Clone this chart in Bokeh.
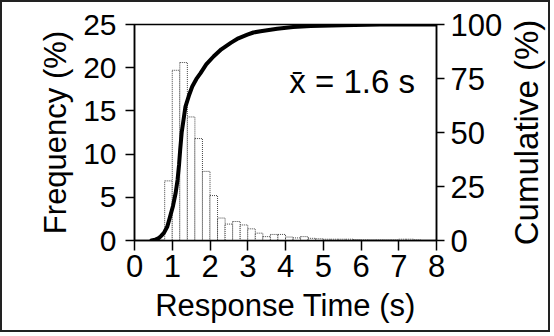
from bokeh.plotting import figure
from bokeh.layouts import row
from bokeh.models import Range1d, LinearAxis, Label, FixedTicker
from bokeh.embed import file_html
from bokeh.resources import INLINE

# Histogram bins (left edges, seconds), bin width 0.2 s
bin_left = [0.8, 1.0, 1.2, 1.4, 1.6, 1.8, 2.0, 2.2, 2.4, 2.6, 2.8, 3.0, 3.2, 3.4,
            3.6, 3.8, 4.0, 4.2, 4.4, 4.6, 4.8, 5.0, 5.2, 5.4, 5.6, 5.8, 6.0, 6.2,
            6.4, 6.6, 6.8, 7.0, 7.2, 7.4]
frequency = [6.9, 19.7, 20.6, 14.3, 11.8, 8.0, 5.2, 2.6, 1.9, 2.2, 1.8, 1.35, 0.85, 0.45,
             0.7, 0.7, 0.4, 0.3, 0.45, 0.25, 0.2, 0.15, 0.15, 0.15, 0.15, 0.1, 0.05, 0.05,
             0.05, 0.05, 0.05, 0.15, 0.15, 0.05]
bin_width = 0.2

# Cumulative curve (%)
cum_x = [0.45, 0.55, 0.63, 0.7, 0.78, 0.87, 0.95, 1.02, 1.09, 1.14, 1.18, 1.21, 1.25,
         1.30, 1.35, 1.44, 1.53, 1.64, 1.75, 1.9, 2.10, 2.3, 2.55, 2.75, 2.99,
         3.15, 3.34, 3.78, 4.2, 4.67, 5.5, 6.5, 8.0]
cum_y = [0, 0.4, 1.0, 2.0, 3.5, 6.5, 11.5, 16, 22, 28, 35, 42, 50,
         56, 62, 67, 71.3, 74.8, 77.5, 81.5, 85.3, 88.5, 91.5, 93.6, 95.3,
         96.3, 96.9, 98, 98.8, 99.3, 99.7, 100, 100]

x_ticks = [0, 1, 2, 3, 4, 5, 6, 7, 8]
freq_ticks = [0, 5, 10, 15, 20, 25]
cum_ticks = [0, 25, 50, 75, 100]
mean_text = "x\u0304 = 1.6 s"
right_label = "Cumulative (%)"

FONT = "Liberation Sans"
BORDER = "2px solid #222"

p = figure(width=504, height=332, output_backend="svg", toolbar_location=None,
           x_range=Range1d(0, 8), y_range=Range1d(0, 25),
           min_border_left=132, min_border_right=70, min_border_top=22,
           min_border_bottom=94)
p.styles = {"border": BORDER, "border-right": "none"}
p.grid.visible = False
p.outline_line_color = "black"
p.outline_line_width = 1.5
p.background_fill_color = "white"
p.border_fill_color = "white"

right_top = cum_ticks[-1]
p.extra_y_ranges = {"cum": Range1d(0, right_top)}

p.quad(left=bin_left, right=[b + bin_width for b in bin_left], bottom=0, top=frequency,
       fill_color="white", line_color="#444444", line_dash="1 1", line_width=1)

p.line(cum_x, cum_y, y_range_name="cum", line_color="black", line_width=4,
       line_join="round", line_cap="round")

def style_axis(ax, size):
    ax.axis_line_color = "black"
    ax.axis_line_width = 1.5
    ax.major_tick_line_color = "black"
    ax.major_tick_line_width = 1.5
    ax.major_tick_in = 0
    ax.minor_tick_line_color = None
    ax.major_label_text_font = FONT
    ax.major_label_text_font_size = size
    ax.major_label_text_color = "black"
    ax.axis_label_text_font = FONT
    ax.axis_label_text_font_style = "normal"
    ax.axis_label_text_color = "black"

xa = p.xaxis[0]
style_axis(xa, "31px")
xa.ticker = FixedTicker(ticks=x_ticks)
xa.major_tick_out = 10
xa.major_label_standoff = 4
xa.axis_label = "Response Time (s)"
xa.axis_label_text_font_size = "31px"
xa.axis_label_standoff = 8

ya = p.yaxis[0]
style_axis(ya, "30px")
ya.ticker = FixedTicker(ticks=freq_ticks)
ya.major_tick_out = 9
ya.major_label_standoff = 9
ya.axis_label = "Frequency (%)"
ya.axis_label_text_font_size = "31px"
ya.axis_label_standoff = 7

ra = LinearAxis(y_range_name="cum")
style_axis(ra, "31px")
ra.ticker = FixedTicker(ticks=cum_ticks)
ra.major_tick_out = 8
ra.major_label_standoff = 6
p.add_layout(ra, "right")

p.add_layout(Label(x=4.1, y=18.4, text=mean_text, text_font=FONT,
                   text_font_size="33px", text_color="black",
                   text_baseline="alphabetic"))

# narrow companion panel that carries the right-hand title (reads bottom to top)
p2 = figure(width=46, height=332, output_backend="svg", toolbar_location=None,
            x_range=Range1d(0, 1), y_range=Range1d(0, 1),
            min_border_left=31, min_border_right=0, min_border_top=22,
            min_border_bottom=94)
p2.styles = {"border": BORDER, "border-left": "none"}
p2.grid.visible = False
p2.outline_line_color = None
p2.background_fill_color = "white"
p2.border_fill_color = "white"
p2.xaxis.visible = False
ya2 = p2.yaxis[0]
ya2.ticker = FixedTicker(ticks=[])
ya2.axis_line_color = None
ya2.major_tick_line_color = None
ya2.minor_tick_line_color = None
ya2.axis_label = right_label
ya2.axis_label_text_font = FONT
ya2.axis_label_text_font_style = "normal"
ya2.axis_label_text_font_size = "33px"
ya2.axis_label_text_color = "black"
ya2.axis_label_standoff = 4

layout = row(p, p2)
open("out.html", "w").write(file_html(layout, INLINE))
